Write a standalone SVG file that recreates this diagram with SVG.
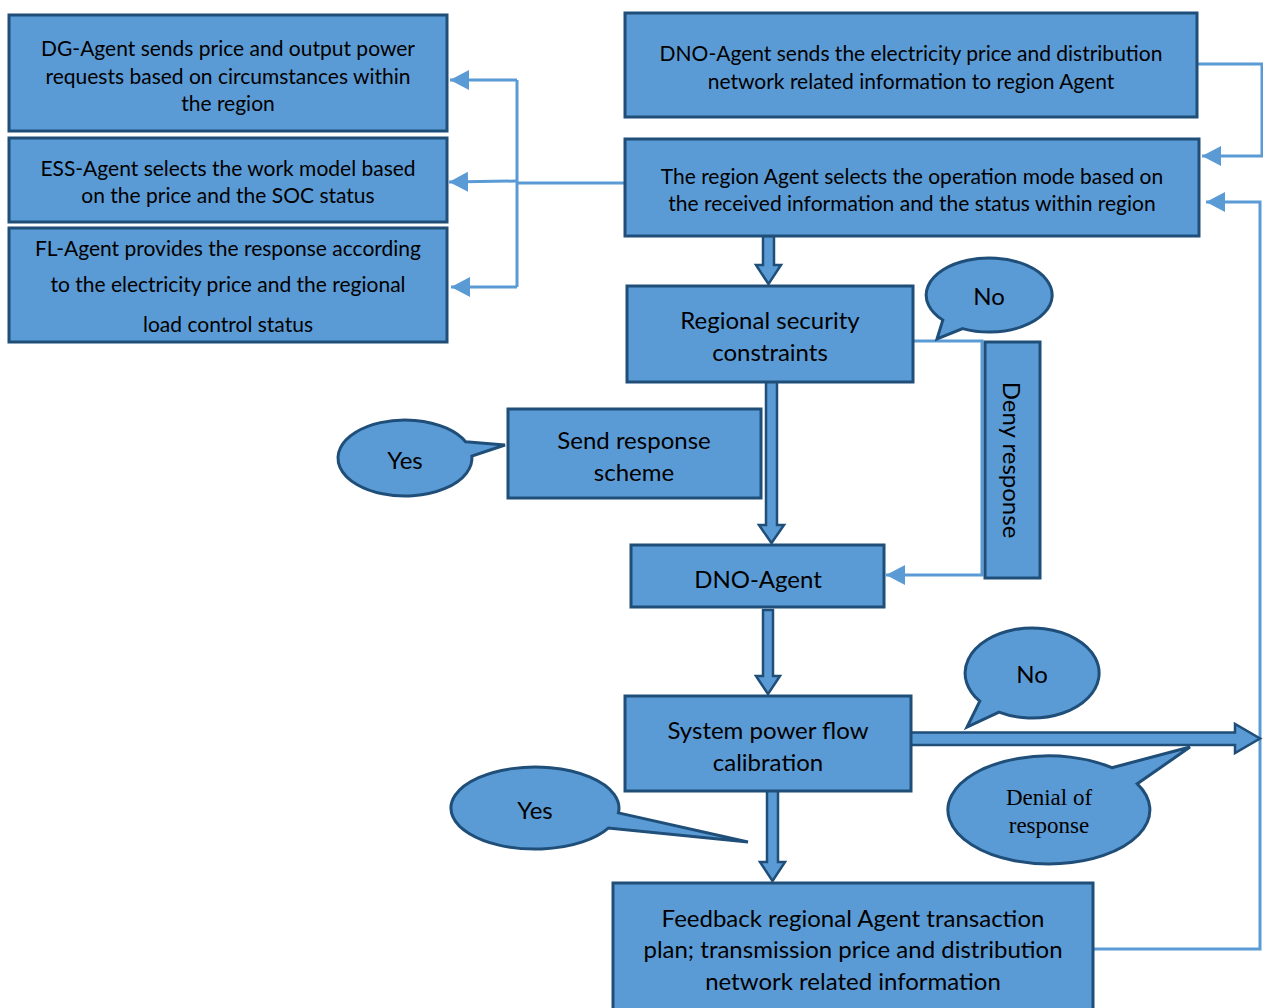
<svg xmlns="http://www.w3.org/2000/svg" width="1263" height="1008" viewBox="0 0 1263 1008">
<style>
.box{fill:#5B9BD5;stroke:#1F4E79;stroke-width:3}
.blk{fill:#5B9BD5;stroke:#1F4E79;stroke-width:2.5;stroke-linejoin:miter}
.ln{fill:none;stroke:#5B9BD5;stroke-width:3}
.t{font-family:Lato,"Liberation Sans",sans-serif;fill:#000;text-anchor:middle;dominant-baseline:central}
.s{font-size:21px}
.m{font-size:24px}
.sr{font-family:"Liberation Serif",serif;font-size:23px;fill:#000;text-anchor:middle;dominant-baseline:central}
</style>
<defs>
<marker id="ah" markerUnits="userSpaceOnUse" markerWidth="22" markerHeight="22" refX="19" refY="10" orient="auto">
<path d="M0,0 L19,10 L0,20 Z" fill="#5B9BD5"/>
</marker>
</defs>
<rect width="1263" height="1008" fill="#fff"/>
<g id="connectors">
<polyline class="ln" points="625,183 517,183"/>
<polyline class="ln" points="517,80 517,287"/>
<line class="ln" x1="517" y1="80" x2="450" y2="80" marker-end="url(#ah)"/>
<line class="ln" x1="517" y1="181" x2="449" y2="182" marker-end="url(#ah)"/>
<line class="ln" x1="517" y1="287" x2="451" y2="287" marker-end="url(#ah)"/>
<polyline class="ln" points="1197,64 1262,64 1262,156 1202,156" marker-end="url(#ah)"/>
<polyline class="ln" points="1094,949 1260,949 1260,202 1206,202" marker-end="url(#ah)"/>
<polyline class="ln" points="913,341 982,341 982,575 886,575" marker-end="url(#ah)"/>
<polygon class="blk" points="763,236 774,236 774,265 781,265 768.5,284 756,265 763,265"/>
<polygon class="blk" points="766,380 777,380 777,525 784,525 771.5,543 759,525 766,525"/>
<polygon class="blk" points="763,610 773,610 773,676 780,676 768,694 756,676 763,676"/>
<polygon class="blk" points="767,790 778,790 778,862 785,862 772.5,881 760,862 767,862"/>
<polygon class="blk" points="909,732.5 1235,732.5 1235,724 1260,738.5 1235,753 1235,745 909,745"/>
</g>
<g id="dg">
<rect class="box" x="9" y="15" width="438" height="116"/>
<text class="t s" x="228" y="47">DG-Agent sends price and output power</text>
<text class="t s" x="228" y="75">requests based on circumstances within</text>
<text class="t s" x="228" y="102">the region</text>
</g>
<g id="ess">
<rect class="box" x="9" y="138" width="438" height="84"/>
<text class="t s" x="228" y="167">ESS-Agent selects the work model based</text>
<text class="t s" x="228" y="194">on the price and the SOC status</text>
</g>
<g id="fl">
<rect class="box" x="9" y="228" width="438" height="114"/>
<text class="t s" x="228" y="247">FL-Agent provides the response according</text>
<text class="t s" x="228" y="283">to the electricity price and the  regional</text>
<text class="t s" x="228" y="323">load control  status</text>
</g>
<g id="dno-top">
<rect class="box" x="625" y="13" width="572" height="104"/>
<text class="t s" x="911" y="52">DNO-Agent sends the electricity price and distribution</text>
<text class="t s" x="911" y="80">network related information to region Agent</text>
</g>
<g id="region">
<rect class="box" x="625" y="139" width="574" height="97"/>
<text class="t s" x="912" y="175">The region Agent selects the operation mode based on</text>
<text class="t s" x="912" y="202">the received information and the status within region</text>
</g>
<g id="security">
<rect class="box" x="627" y="286" width="286" height="96"/>
<text class="t m" x="770" y="319">Regional security</text>
<text class="t m" x="770" y="351">constraints</text>
</g>
<g id="send">
<rect class="box" x="508" y="409" width="253" height="89"/>
<text class="t m" x="634" y="439">Send response</text>
<text class="t m" x="634" y="471">scheme</text>
</g>
<g id="deny">
<rect class="box" x="985" y="342" width="55" height="236"/>
<text class="t m" transform="translate(1012,460) rotate(90)" x="0" y="0">Deny response</text>
</g>
<g id="dno-agent">
<rect class="box" x="631" y="545" width="253" height="62"/>
<text class="t m" x="758" y="578">DNO-Agent</text>
</g>
<g id="system">
<rect class="box" x="625" y="696" width="286" height="95"/>
<text class="t m" x="768" y="729">System power flow</text>
<text class="t m" x="768" y="761">calibration</text>
</g>
<g id="feedback">
<rect class="box" x="613" y="883" width="480" height="130"/>
<text class="t m" x="853" y="917">Feedback regional Agent transaction</text>
<text class="t m" x="853" y="948">plan; transmission price and distribution</text>
<text class="t m" x="853" y="980">network related information</text>
</g>
<g id="no-1">
<path class="box" d="M942.8,320.1 L937,339 L962.6,328.6 A63,37 0 1 0 942.8,320.1 Z"/>
<text class="t m" x="989" y="295">No</text>
</g>
<g id="yes-1">
<path class="box" d="M465.6,441.8 L505,445 L471.9,456 A67,38 0 1 1 465.6,441.8 Z"/>
<text class="t m" x="405" y="459">Yes</text>
</g>
<g id="no-2">
<path class="box" d="M979.8,701.2 L967,727 L999,712.2 A67,45 0 1 0 979.8,701.2 Z"/>
<text class="t m" x="1032" y="673">No</text>
</g>
<g id="denial">
<path class="box" d="M1111.9,767.7 L1190,747 L1137.3,783.8 A101,54 0 1 1 1111.9,767.7 Z"/>
<text class="sr" x="1049" y="797">Denial of</text>
<text class="sr" x="1049" y="825">response</text>
</g>
<g id="yes-2">
<path class="box" d="M618.4,812.9 L748,842 L608.3,828.1 A84,41 0 1 1 618.4,812.9 Z"/>
<text class="t m" x="535" y="809">Yes</text>
</g>
</svg>
